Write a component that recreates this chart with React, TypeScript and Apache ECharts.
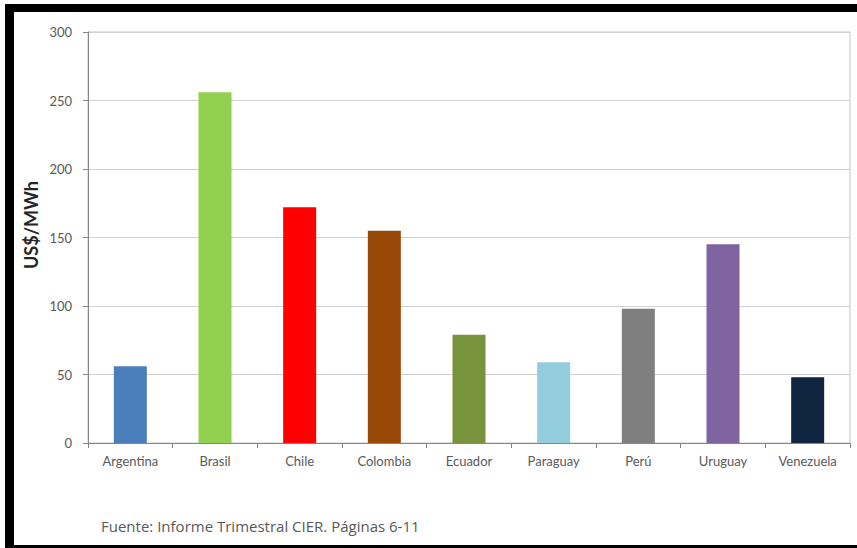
import React, { useEffect, useRef } from "react";
import * as echarts from "echarts";

// Precio medio de la energía por país (US$/MWh)
const countries = [
  "Argentina",
  "Brasil",
  "Chile",
  "Colombia",
  "Ecuador",
  "Paraguay",
  "Perú",
  "Uruguay",
  "Venezuela",
];
const prices = [56, 256, 172, 155, 79, 59, 98, 145, 48];
const barColors = [
  "#4A7EBB",
  "#92D050",
  "#FF0000",
  "#984807",
  "#77933C",
  "#93CDDD",
  "#7F7F7F",
  "#8064A2",
  "#0F243E",
];
const yTicks = { min: 0, max: 300, interval: 50 };
const yAxisTitle = "US$/MWh";
const sourceNote = "Fuente: Informe Trimestral CIER. Páginas 6-11";

const W = 857;
const H = 548;

export default function App() {
  const ref = useRef<HTMLDivElement>(null);

  useEffect(() => {
    document.body.style.margin = "0";
    if (!ref.current) return;
    const chart = echarts.init(ref.current, null, { renderer: "svg" });

    const textColor = "#595959";
    const axisColor = "#868686";

    chart.setOption({
      animation: false,
      backgroundColor: "#ffffff",
      grid: {
        left: 88,
        right: 7,
        top: 32,
        bottom: 105,
        show: true,
        borderColor: "#c4c4c4",
        borderWidth: 1,
      },
      xAxis: {
        type: "category",
        data: countries,
        axisLine: { show: true, lineStyle: { color: axisColor, width: 1 } },
        axisTick: { show: true, length: 5, lineStyle: { color: axisColor } },
        axisLabel: {
          margin: 11,
          fontFamily: "Lato",
          fontSize: 13,
          color: textColor,
        },
      },
      yAxis: {
        type: "value",
        min: yTicks.min,
        max: yTicks.max,
        interval: yTicks.interval,
        axisLine: { show: true, lineStyle: { color: axisColor, width: 1 } },
        axisTick: { show: true, length: 5, lineStyle: { color: axisColor } },
        splitLine: { show: true, lineStyle: { color: "#d0d0d0", width: 1 } },
        axisLabel: {
          margin: 16,
          fontFamily: "Lato",
          fontSize: 13,
          color: textColor,
        },
      },
      series: [
        {
          type: "bar",
          barWidth: 33,
          data: prices.map((v, i) => ({
            value: v,
            itemStyle: { color: barColors[i] },
          })),
        },
      ],
      graphic: [
        {
          type: "text",
          x: 31,
          y: 225,
          rotation: Math.PI / 2,
          style: {
            text: yAxisTitle,
            fontFamily: "Lato",
            fontWeight: "bold",
            fontSize: 18,
            fill: "#262626",
            align: "center",
            verticalAlign: "middle",
          },
        },
        {
          type: "text",
          x: 101,
          y: 526,
          style: {
            text: sourceNote,
            fontFamily: "Open Sans",
            fontSize: 15,
            fill: textColor,
            align: "left",
            verticalAlign: "middle",
          },
        },
        // black frame around the figure
        {
          type: "rect",
          shape: { x: 5, y: 4, width: W - 5, height: 8 },
          style: { fill: "#000000" },
        },
        {
          type: "rect",
          shape: { x: 5, y: 4, width: 9, height: H - 4 },
          style: { fill: "#000000" },
        },
        {
          type: "rect",
          shape: { x: 5, y: 545, width: W - 5, height: 3 },
          style: { fill: "#000000" },
        },
      ],
    });

    return () => chart.dispose();
  }, []);

  return <div ref={ref} style={{ width: W, height: H }} />;
}
